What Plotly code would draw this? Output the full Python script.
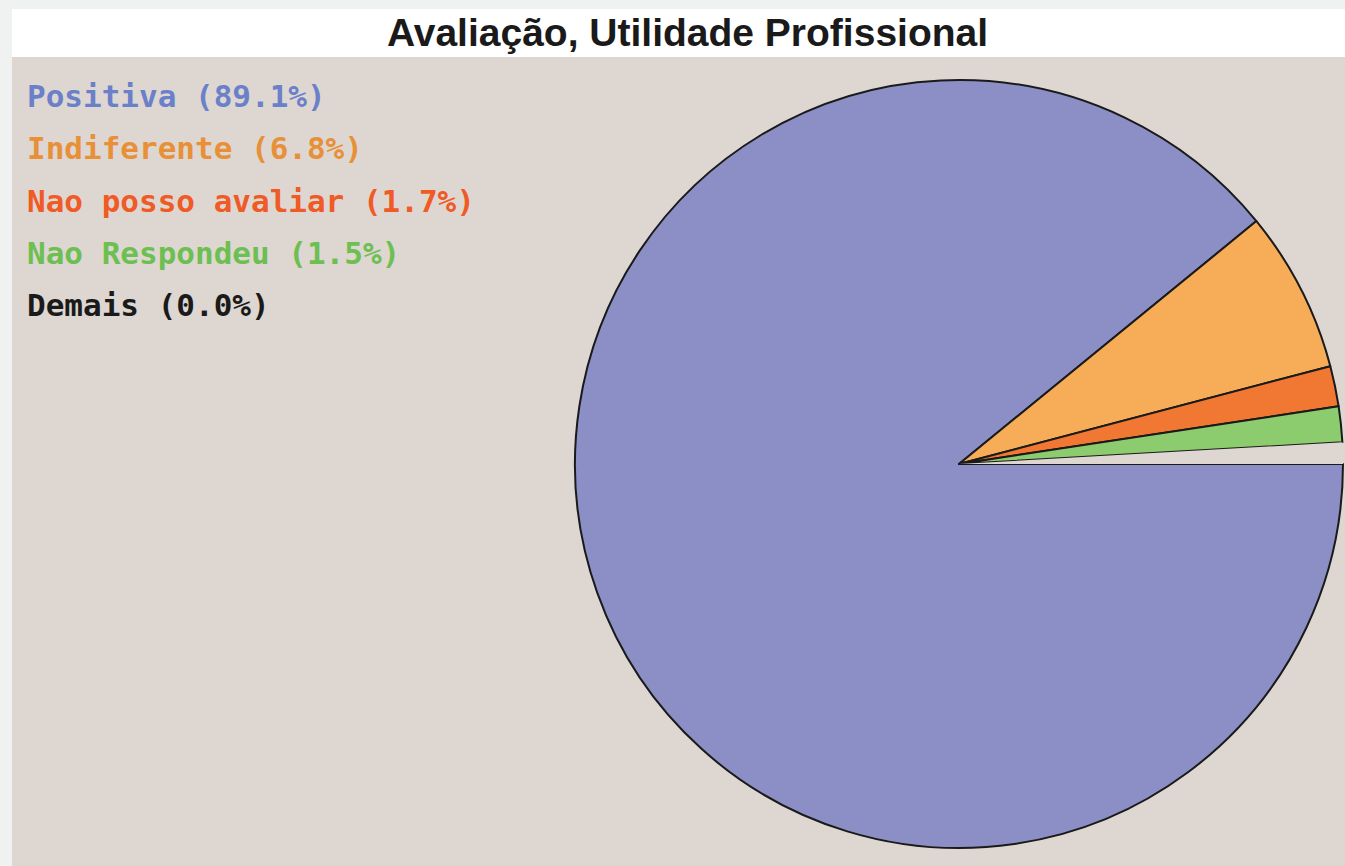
import plotly.graph_objects as go

# Data
categories = ["Positiva", "Indiferente", "Nao posso avaliar", "Nao Respondeu", "Demais"]
percentages = [89.1, 6.8, 1.7, 1.5, 0.0]
slice_colors = ["#8B8FC6", "#F7AD58", "#F07832", "#8CCB6E", "#DDD6D1"]
text_colors = ["#6A80C8", "#E89038", "#F05A24", "#6CBF50", "#1A1A1A"]
title_text = "Avaliação, Utilidade Profissional"

W, H = 1345, 866
BG = "#DDD6D1"

# unassigned remainder of the circle (drawn as an empty gap in the original)
gap = round(100 - sum(percentages), 1)

# clockwise from 3 o'clock: Positiva, Indiferente, Nao posso, Nao Respondeu, gap
pie_labels = categories[:4] + ["gap"]
pie_values = percentages[:4] + [gap]
pie_colors = slice_colors[:4] + [BG]
line_widths = [2, 2, 2, 2, 0]

fig = go.Figure()
fig.add_trace(go.Pie(
    labels=pie_labels,
    values=pie_values,
    sort=False,
    direction="clockwise",
    rotation=90,
    marker=dict(colors=pie_colors, line=dict(color="#1A1A1A", width=line_widths)),
    textinfo="none",
    hoverinfo="none",
    showlegend=False,
    domain=dict(x=[575 / W, 1343 / W], y=[1 - 848 / H, 1 - 80 / H]),
))

shapes = [
    # title band
    dict(type="rect", xref="paper", yref="paper", x0=12 / W, x1=1, y0=1 - 57 / H, y1=1 - 9 / H,
         fillcolor="#FFFFFF", line=dict(width=0), layer="below"),
    # plot area
    dict(type="rect", xref="paper", yref="paper", x0=12 / W, x1=1, y0=0, y1=1 - 57 / H,
         fillcolor=BG, line=dict(width=0), layer="below"),
]

annotations = [
    dict(text="<b>" + title_text + "</b>", xref="paper", yref="paper",
         x=687 / W, y=1 - 32 / H, xanchor="center", yanchor="middle", showarrow=False,
         font=dict(family="Liberation Sans, Arial", size=39, color="#1A1A1A")),
]
y0 = 96
step = 52.3
for i, (cat, pct, col) in enumerate(zip(categories, percentages, text_colors)):
    annotations.append(dict(
        text=f"<b>{cat} ({pct:.1f}%)</b>", xref="paper", yref="paper",
        x=25 / W, y=1 - (y0 + i * step) / H, xanchor="left", yanchor="middle",
        showarrow=False,
        font=dict(family="DejaVu Sans Mono", size=31, color=col),
    ))

fig.update_layout(
    width=W, height=H,
    margin=dict(l=0, r=0, t=0, b=0),
    paper_bgcolor="#F0F2F1",
    plot_bgcolor="#F0F2F1",
    shapes=shapes,
    annotations=annotations,
)

fig.write_html(
    "out.html",
    config={"displayModeBar": False},
    post_script="document.body.style.margin='0';document.body.style.overflow='hidden';",
)
